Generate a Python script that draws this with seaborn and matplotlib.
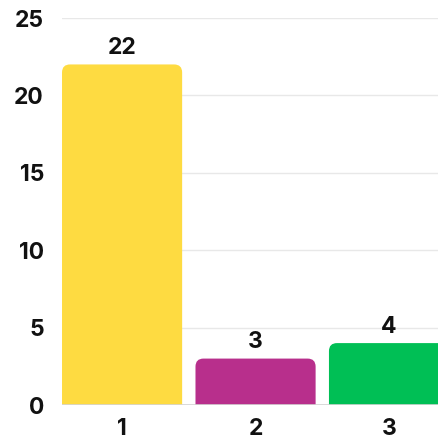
import matplotlib
matplotlib.use("Agg")
import seaborn as sns
import matplotlib.pyplot as plt
from matplotlib.patches import FancyBboxPatch

# chart data
categories = ["1", "2", "3"]
values = [22, 3, 4]
colors = ["#FEDB41", "#B82F8C", "#00BF55"]

sns.set_style("white")
plt.rcParams["font.family"] = ["Inter", "DejaVu Sans"]

fig = plt.figure(figsize=(4.38, 4.38), dpi=100)
ax = fig.add_axes([0.1416, 0.0753, 0.8584, 0.8836])

sns.barplot(x=categories, y=values, hue=categories, palette=colors,
            width=0.9, saturation=1, legend=False, ax=ax, zorder=3)

ax.set_ylim(0, 25)
ax.set_xlim(-0.45, 2.367)

# swap square bars for bars with rounded top corners
rx = 0.06
ry = 0.52
for bar in list(ax.patches):
    x, w, h = bar.get_x(), bar.get_width(), bar.get_height()
    fc = bar.get_facecolor()
    bar.set_visible(False)
    rounded = FancyBboxPatch((x, -2), w, h + 2,
                             boxstyle=f"round,pad=0,rounding_size={rx}",
                             mutation_aspect=ry / rx,
                             facecolor=fc, edgecolor="none", zorder=3)
    ax.add_patch(rounded)
    ax.text(x + w / 2, h + 0.35, str(int(h)), ha="center", va="bottom",
            fontsize=16.5, fontweight="bold", color="#111111")

ax.set_yticks([0, 5, 10, 15, 20, 25])
ax.yaxis.grid(True, color="#e8e8e8", linewidth=1, zorder=0)
ax.axhline(0, color="#d4d4d4", linewidth=1.2, zorder=4)
for s in ax.spines.values():
    s.set_visible(False)
ax.tick_params(axis="y", length=0, pad=13, labelsize=16.5)
ax.tick_params(axis="x", length=0, pad=9, labelsize=16.5)
for lbl in ax.get_xticklabels() + ax.get_yticklabels():
    lbl.set_fontweight("bold")
    lbl.set_color("#111111")
ax.set_xlabel("")
ax.set_ylabel("")

fig.savefig("out.png", dpi=100)
